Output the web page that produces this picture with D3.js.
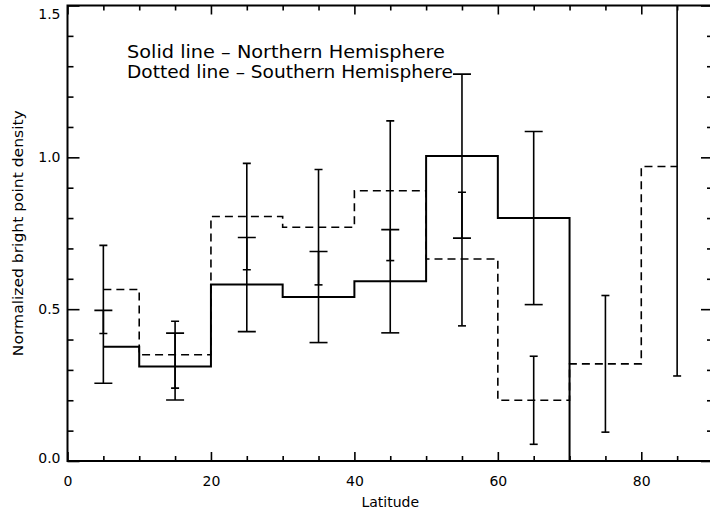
<!DOCTYPE html>
<html>
<head>
<meta charset="utf-8">
<script src="https://cdn.jsdelivr.net/npm/d3@7"></script>
<style>
  body { margin: 0; background: #fff; }
  text { font-family: "DejaVu Sans", sans-serif; fill: #000; }
</style>
</head>
<body>
<div id="chart"></div>
<script>
// Bin centres (latitude) and normalized densities
const latitude = [5, 15, 25, 35, 45, 55, 65, 75, 85];
const northern = [0.376, 0.311, 0.581, 0.54, 0.592, 1.004, 0.80, 0, 0];
const northernErr = [0.12, 0.11, 0.155, 0.15, 0.17, 0.27, 0.285, null, null];
const southern = [0.565, 0.35, 0.805, 0.77, 0.89, 0.665, 0.20, 0.32, 0.97];
const southernErr = [0.145, 0.11, 0.175, 0.19, 0.23, 0.22, 0.145, 0.225, 0.69];

const xMajor = [0, 20, 40, 60, 80];
const xMinor = d3.range(5, 90, 5).filter(d => d % 20 !== 0);
const yMajor = [0, 0.5, 1.0, 1.5];
const yMinor = d3.range(1, 15).filter(d => d % 5 !== 0).map(d => d / 10);

const width = 710;
const height = 514;
const margin = { top: 5.5, right: -3, bottom: 53, left: 67.5 };

const svg = d3.select("#chart")
  .append("svg")
  .attr("width", width)
  .attr("height", height);

const x = d3.scaleLinear().domain([0, 90]).range([margin.left, width - margin.right]);
const y = d3.scaleLinear().domain([0, 1.5]).range([height - margin.bottom, margin.top]);

svg.append("defs").append("clipPath")
  .attr("id", "plot-clip")
  .append("rect")
  .attr("x", x(0)).attr("y", y(1.5))
  .attr("width", x(90) - x(0)).attr("height", y(0) - y(1.5));

const plot = svg.append("g").attr("clip-path", "url(#plot-clip)");

// step histograms (IDL psym=10 style: steps at bin edges)
const step = d3.line()
  .x((d, i) => x(latitude[i]))
  .y(d => y(d))
  .curve(d3.curveStep);

plot.append("path")
  .attr("d", step(southern))
  .attr("fill", "none")
  .attr("stroke", "#000")
  .attr("stroke-width", 1.6)
  .attr("stroke-dasharray", "8,5");

plot.append("path")
  .attr("d", step(northern))
  .attr("fill", "none")
  .attr("stroke", "#000")
  .attr("stroke-width", 2);

// error bars
function errorBars(vals, errs, capHalf) {
  const data = latitude.map((lat, i) => ({ lat, v: vals[i], e: errs[i] }))
    .filter(d => d.e != null);
  const g = plot.append("g").attr("stroke", "#000").attr("stroke-width", 1.6);
  g.selectAll(".bar").data(data).enter().append("line")
    .attr("x1", d => x(d.lat)).attr("x2", d => x(d.lat))
    .attr("y1", d => y(d.v - d.e)).attr("y2", d => y(d.v + d.e));
  [-1, 1].forEach(s => {
    g.selectAll(".cap" + s).data(data).enter().append("line")
      .attr("x1", d => x(d.lat) - capHalf).attr("x2", d => x(d.lat) + capHalf)
      .attr("y1", d => y(d.v + s * d.e)).attr("y2", d => y(d.v + s * d.e));
  });
}
errorBars(northern, northernErr, 9);
errorBars(southern, southernErr, 4);

// axes with inward ticks
function styleAxis(g) {
  g.select(".domain").remove();
  g.selectAll("line").attr("stroke", "#000").attr("stroke-width", 1.6);
  g.selectAll("text").style("font-size", "14px");
}

svg.append("g")
  .attr("transform", `translate(0,${y(0)})`)
  .call(d3.axisBottom(x).tickValues(xMajor).tickSize(-9).tickPadding(15).tickFormat(d3.format("d")))
  .call(styleAxis);
svg.append("g")
  .attr("transform", `translate(0,${y(0)})`)
  .call(d3.axisBottom(x).tickValues(xMinor).tickSize(-5).tickFormat(""))
  .call(styleAxis);
svg.append("g")
  .attr("transform", `translate(0,${y(1.5)})`)
  .call(d3.axisTop(x).tickValues(xMajor).tickSize(-9).tickFormat(""))
  .call(styleAxis);
svg.append("g")
  .attr("transform", `translate(0,${y(1.5)})`)
  .call(d3.axisTop(x).tickValues(xMinor).tickSize(-5).tickFormat(""))
  .call(styleAxis);

svg.append("g")
  .attr("transform", `translate(${x(0)},0)`)
  .call(d3.axisLeft(y).tickValues(yMajor).tickSize(-12).tickPadding(7).tickFormat(d3.format(".1f")))
  .call(styleAxis)
  .call(g => g.selectAll(".tick text")
    .attr("dy", d => d === 1.5 ? "0.9em" : d === 0 ? "0.1em" : "0.32em"));
svg.append("g")
  .attr("transform", `translate(${x(0)},0)`)
  .call(d3.axisLeft(y).tickValues(yMinor).tickSize(-6).tickFormat(""))
  .call(styleAxis);
svg.append("g")
  .attr("transform", `translate(${x(90)},0)`)
  .call(d3.axisRight(y).tickValues(yMajor).tickSize(-12).tickFormat(""))
  .call(styleAxis);
svg.append("g")
  .attr("transform", `translate(${x(90)},0)`)
  .call(d3.axisRight(y).tickValues(yMinor).tickSize(-6).tickFormat(""))
  .call(styleAxis);

// frame
svg.append("rect")
  .attr("x", x(0)).attr("y", y(1.5))
  .attr("width", x(90) - x(0)).attr("height", y(0) - y(1.5))
  .attr("fill", "none")
  .attr("stroke", "#000")
  .attr("stroke-width", 2);

// axis titles
svg.append("text")
  .attr("x", (x(0) + x(90)) / 2)
  .attr("y", 507)
  .attr("text-anchor", "middle")
  .style("font-size", "14px")
  .text("Latitude");

svg.append("text")
  .attr("transform", `translate(23,${(y(0) + y(1.5)) / 2}) rotate(-90)`)
  .attr("text-anchor", "middle")
  .attr("textLength", 246)
  .attr("lengthAdjust", "spacingAndGlyphs")
  .style("font-size", "14px")
  .text("Normalized bright point density");

// legend notes
svg.append("text")
  .attr("x", 127).attr("y", 58)
  .attr("textLength", 318)
  .attr("lengthAdjust", "spacingAndGlyphs")
  .style("font-size", "17px")
  .text("Solid line – Northern Hemisphere");
svg.append("text")
  .attr("x", 127).attr("y", 78)
  .attr("textLength", 326)
  .attr("lengthAdjust", "spacingAndGlyphs")
  .style("font-size", "17px")
  .text("Dotted line – Southern Hemisphere");
</script>
</body>
</html>
